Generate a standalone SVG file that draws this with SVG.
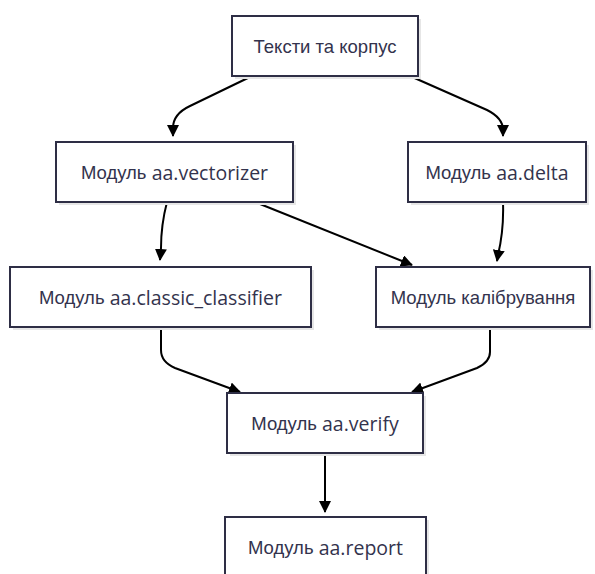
<svg xmlns="http://www.w3.org/2000/svg" width="595" height="574" viewBox="0 0 595 574">
  <style>
    .box { fill: #ffffff; stroke: #2e2e45; stroke-width: 2; }
    .shadow { fill: #e6e6e6; }
    .label { font-family: "Liberation Sans", Arial, sans-serif; font-size: 18.5px; fill: #33334d; text-anchor: middle; dominant-baseline: central; }
    .lat { font-family: "Open Sans", "Noto Sans", sans-serif; font-size: 19.5px; }
    .edge { fill: none; stroke: #000000; stroke-width: 2; marker-end: url(#arrow); }
  </style>
  <defs>
    <marker id="arrow" viewBox="0 0 12 12" refX="11" refY="6" markerWidth="12" markerHeight="12" markerUnits="userSpaceOnUse" orient="auto">
      <path d="M0,0 L12,6 L0,12 z" fill="#000000"/>
    </marker>
  </defs>
  <rect width="595" height="574" fill="#ffffff"/>

  <g id="edges">
    <path class="edge" d="M252,76 L190,106 Q173,114 173,128 L173,136"/>
    <path class="edge" d="M410,76 L487,110 Q503,118 503,130 L503,136"/>
    <path class="edge" d="M167,202 Q161,225 161,248 L160,260"/>
    <path class="edge" d="M255,202 L412,265"/>
    <path class="edge" d="M503,202 Q504,230 498,255 L497,261"/>
    <path class="edge" d="M161,327 L161,350 Q161,362 175,368 L240,392"/>
    <path class="edge" d="M490,327 L490,352 Q490,362 477,368 L412,392"/>
    <path class="edge" d="M325,453 L325,512"/>
  </g>

  <g id="corpus">
    <rect class="shadow" x="235" y="19" width="186" height="60"/>
    <rect class="box" x="232" y="16" width="186" height="60"/>
    <text class="label" x="325" y="46">Тексти та корпус</text>
  </g>

  <g id="vectorizer">
    <rect class="shadow" x="59" y="145" width="237" height="60"/>
    <rect class="box" x="56" y="142" width="237" height="60"/>
    <text class="label" x="174.5" y="172">Модуль <tspan class="lat">aa.vectorizer</tspan></text>
  </g>

  <g id="delta">
    <rect class="shadow" x="411" y="145" width="178" height="60"/>
    <rect class="box" x="408" y="142" width="178" height="60"/>
    <text class="label" x="497" y="172">Модуль <tspan class="lat">aa.delta</tspan></text>
  </g>

  <g id="classic">
    <rect class="shadow" x="13" y="270" width="301" height="60"/>
    <rect class="box" x="10" y="267" width="301" height="60"/>
    <text class="label" x="160.5" y="297">Модуль <tspan class="lat">aa.classic_classifier</tspan></text>
  </g>

  <g id="calibration">
    <rect class="shadow" x="379" y="270" width="214" height="60"/>
    <rect class="box" x="376" y="267" width="214" height="60"/>
    <text class="label" x="483" y="297">Модуль калібрування</text>
  </g>

  <g id="verify">
    <rect class="shadow" x="230" y="396" width="196" height="60"/>
    <rect class="box" x="227" y="393" width="196" height="60"/>
    <text class="label" x="325" y="423">Модуль <tspan class="lat">aa.verify</tspan></text>
  </g>

  <g id="report">
    <rect class="shadow" x="228" y="520" width="201" height="60"/>
    <rect class="box" x="225" y="517" width="201" height="60"/>
    <text class="label" x="325.5" y="547">Модуль <tspan class="lat">aa.report</tspan></text>
  </g>
</svg>
